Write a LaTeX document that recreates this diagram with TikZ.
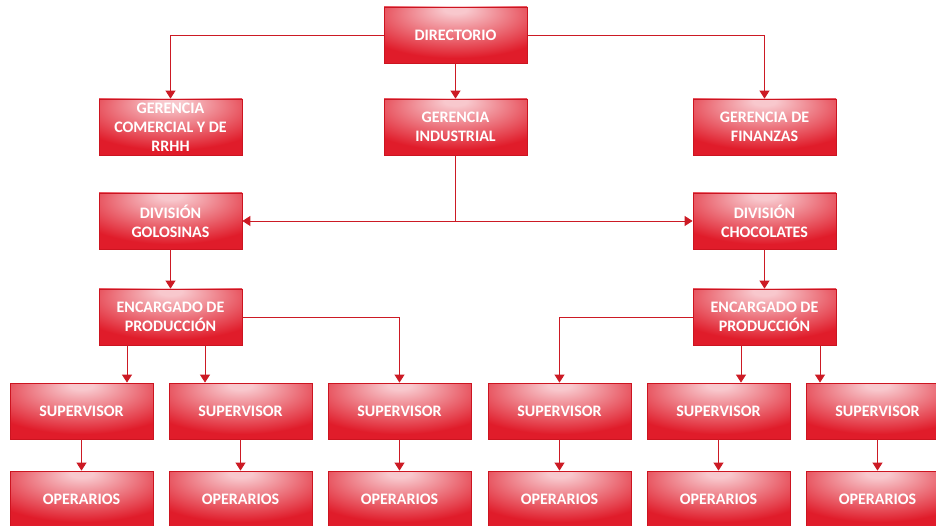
\documentclass[tikz,border=0pt]{standalone}
\usepackage{fontspec}
\setmainfont{Carlito}
\usetikzlibrary{arrows.meta}

\definecolor{boxred}{RGB}{224,28,42}
\definecolor{boxglow}{RGB}{248,200,205}
\definecolor{boxline}{RGB}{204,20,32}
\definecolor{linkred}{RGB}{204,26,36}

% glow near the top centre of every box
\pgfdeclareradialshading{redglow}{\pgfpoint{0bp}{24bp}}{color(0bp)=(boxglow); color(4bp)=(boxglow); color(36bp)=(boxred); color(100bp)=(boxred)}

\tikzset{
  orgbox/.style={draw=boxline, line width=0.8pt, shade, shading=redglow,
    minimum width=143pt, minimum height=56pt, inner sep=2pt, align=center,
    text=white, font=\bfseries\fontsize{16}{19}\selectfont},
  link/.style={draw=linkred, line width=0.9pt},
  arr/.style={link, -{Triangle[length=8pt,width=10pt]}}
}

\begin{document}
\begin{tikzpicture}[x=1pt,y=-1pt]
    \useasboundingbox (0,0) rectangle (936,526);
    \clip (0,0) rectangle (936,526);

    % Top levels
    \node[orgbox] (dir)  at (455.5,35)  {DIRECTORIO};
    \node[orgbox] (com)  at (170.5,127) {GERENCIA\\COMERCIAL Y DE\\RRHH};
    \node[orgbox] (ind)  at (455.5,127) {GERENCIA\\INDUSTRIAL};
    \node[orgbox] (fin)  at (764.5,127) {GERENCIA DE\\FINANZAS};

    % Divisions
    \node[orgbox] (gol)  at (170.5,221) {DIVISIÓN\\GOLOSINAS};
    \node[orgbox] (choc) at (764.5,221) {DIVISIÓN\\CHOCOLATES};

    % Production managers
    \node[orgbox] (encl) at (170.5,317) {ENCARGADO DE\\PRODUCCIÓN};
    \node[orgbox] (encr) at (764.5,317) {ENCARGADO DE\\PRODUCCIÓN};

    % Supervisors and workers
    \foreach \i/\x in {1/81.5, 2/240.5, 3/399.5, 4/559.5, 5/718.5, 6/877.5} {
        \node[orgbox] (sup\i) at (\x,411) {SUPERVISOR};
        \node[orgbox] (op\i)  at (\x,499) {OPERARIOS};
        \draw[arr] (sup\i) -- (op\i);
    }

    % Connectors from the board
    \draw[arr] (dir.west) -| (com.north);
    \draw[arr] (dir) -- (ind);
    \draw[arr] (dir.east) -| (fin.north);

    % Industrial management to the divisions
    \coordinate (split) at (ind.south |- gol.east);
    \draw[link] (ind) -- (split);
    \draw[arr] (split) -- (gol.east);
    \draw[arr] (split) -- (choc.west);

    % Divisions to production managers
    \draw[arr] (gol) -- (encl);
    \draw[arr] (choc) -- (encr);

    % Production managers to supervisors
    \draw[arr] ([xshift=-43.5pt]encl.south) -- ([xshift=-43.5pt]encl.south |- sup1.north);
    \draw[arr] ([xshift=34.5pt]encl.south) -- ([xshift=34.5pt]encl.south |- sup2.north);
    \draw[arr] (encl.east) -| (sup3.north);
    \draw[arr] (encr.west) -| (sup4.north);
    \draw[arr] ([xshift=-23.5pt]encr.south) -- ([xshift=-23.5pt]encr.south |- sup5.north);
    \draw[arr] ([xshift=55.5pt]encr.south) -- ([xshift=55.5pt]encr.south |- sup6.north);
\end{tikzpicture}
\end{document}
